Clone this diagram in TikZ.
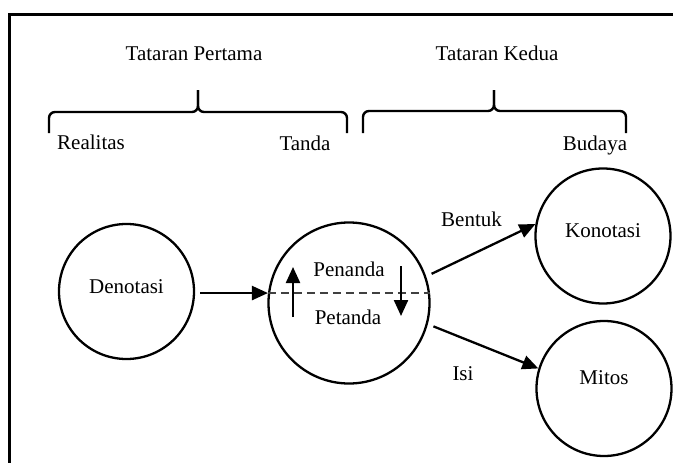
\documentclass[tikz,border=0pt]{standalone}
\usepackage{fontspec}
\setmainfont{Liberation Serif}
\usetikzlibrary{arrows.meta}

\begin{document}
\begin{tikzpicture}[x=1pt,y=-1pt,>={Triangle[length=16pt,width=14pt]},
  circ/.style={draw,circle,line width=2.3pt,minimum size=135pt,inner sep=0pt,font=\fontsize{21}{25}\selectfont,text depth=10pt},
  lbl/.style={font=\fontsize{21}{25}\selectfont,anchor=base,inner sep=0pt},
  arr/.style={->,line width=2.3pt},
  brc/.style={line width=2.4pt,rounded corners=6pt}]
\useasboundingbox (0,0) rectangle (673,463);
\draw[line width=2.8pt] (9.5,463) -- (9.5,14.5) -- (673,14.5);

\node[lbl] (pertama) at (194,60) {Tataran Pertama};
\node[lbl] (kedua) at (497,60) {Tataran Kedua};
\draw[brc] (49,133) -- (49,112) -- (198,112) -- (198,90);
\draw[brc] (347,133) -- (347,112) -- (198,112) -- (198,90);
\draw[brc] (363,133) -- (363,111) -- (494,111) -- (494,90);
\draw[brc] (626,133) -- (626,111) -- (494,111) -- (494,90);
\node[lbl] (realitas) at (91,149) {Realitas};
\node[lbl] (tandalbl) at (305,150) {Tanda};
\node[lbl] (budaya) at (595,150.5) {Budaya};

\node[circ] (denotasi) at (126.5,291.5) {Denotasi};
\node[circ,minimum size=161pt] (tanda) at (349,303) {};
\node[circ] (konotasi) at (603,236) {Konotasi};
\node[circ,text depth=21pt] (mitos) at (604,388.5) {Mitos};

\node[lbl] (penanda) at (349,276) {Penanda};
\node[lbl] (petanda) at (348,324) {Petanda};
\draw[line width=1.3pt,black!75,dash pattern=on 8pt off 5pt] (tanda.173) -- (tanda.7);
\coordinate (upbot) at (293,317);
\coordinate (uptop) at (293,267);
\coordinate (dntop) at (401,266);
\coordinate (dnbot) at (401,316);
\draw[arr] (upbot) -- (uptop);
\draw[arr] (dntop) -- (dnbot);

\draw[arr,shorten <=5pt] (denotasi.east |- tanda.173) -- (tanda.173);
\draw[arr,shorten <=6pt] (tanda.19) -- (konotasi.170);
\draw[arr,shorten <=6pt] (tanda.-15) -- (mitos.163);
\node[lbl] (bentuk) at (471.5,226.5) {Bentuk};
\node[lbl] (isi) at (463,380.5) {Isi};
\end{tikzpicture}
\end{document}
